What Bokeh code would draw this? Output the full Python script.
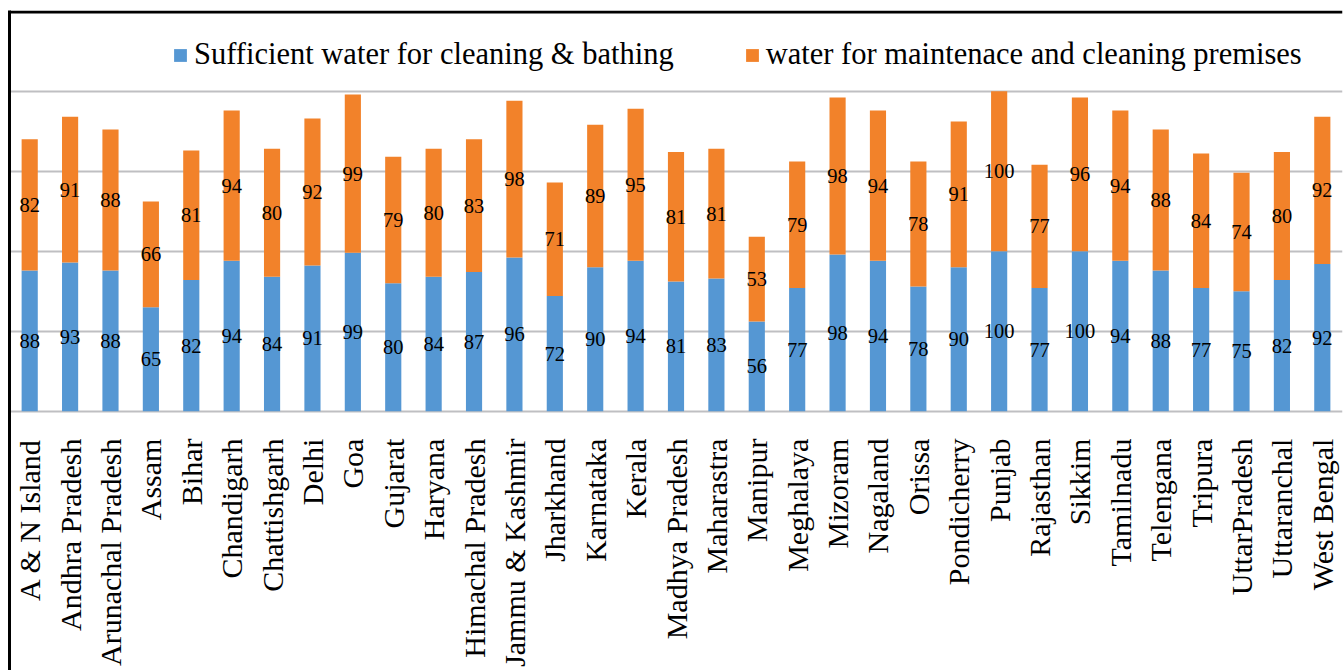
import math
from bokeh.plotting import figure
from bokeh.models import (ColumnDataSource, FactorRange, Range1d, FixedTicker,
                          Legend, LegendItem, Span)
from bokeh.core.properties import value
from bokeh.embed import file_html
from bokeh.resources import INLINE

states = ["A & N Island", "Andhra Pradesh", "Arunachal Pradesh", "Assam", "Bihar",
          "Chandigarh", "Chattishgarh", "Delhi", "Goa", "Gujarat", "Haryana",
          "Himachal Pradesh", "Jammu & Kashmir", "Jharkhand", "Karnataka", "Kerala",
          "Madhya Pradesh", "Maharastra", "Manipur", "Meghalaya", "Mizoram",
          "Nagaland", "Orissa", "Pondicherry", "Punjab", "Rajasthan", "Sikkim",
          "Tamilnadu", "Telengana", "Tripura", "UttarPradesh", "Uttaranchal",
          "West Bengal"]
bathing = [88, 93, 88, 65, 82, 94, 84, 91, 99, 80, 84, 87, 96, 72, 90, 94, 81, 83,
           56, 77, 98, 94, 78, 90, 100, 77, 100, 94, 88, 77, 75, 82, 92]
premises = [82, 91, 88, 66, 81, 94, 80, 92, 99, 79, 80, 83, 98, 71, 89, 95, 81, 81,
            53, 79, 98, 94, 78, 91, 100, 77, 96, 94, 88, 84, 74, 80, 92]
series_names = ["Sufficient water for cleaning & bathing",
                "water for maintenace and cleaning premises"]
grid_ticks = [0, 50, 100, 150, 200]

BLUE = "#5597D3"
ORANGE = "#F2822A"
FONT = "Liberation Serif"
Y_START, Y_END = -162.06, 250.44   # value range of the plot area
LABEL_Y = -17.1                     # category labels hang just below zero
BORDER_Y = 249.5                    # top chart border line

src = ColumnDataSource(dict(
    state=states,
    bathing=bathing,
    premises=premises,
    bath_mid=[b / 2 for b in bathing],
    prem_mid=[b + p / 2 for b, p in zip(bathing, premises)],
    bath_txt=[str(b) for b in bathing],
    prem_txt=[str(p) for p in premises],
    lab_y=[LABEL_Y] * len(states),
))

p = figure(x_range=FactorRange(*states, range_padding=0),
           y_range=Range1d(Y_START, Y_END),
           width=1344, height=670, output_backend="svg", toolbar_location=None,
           x_axis_location=None, y_axis_location="left",
           min_border_left=9, min_border_right=2, min_border_top=10,
           min_border_bottom=0)
p.outline_line_color = None
p.background_fill_color = "white"
p.border_fill_color = "white"

# left chart border line: the y axis line, with no ticks or labels
ya = p.yaxis[0]
ya.ticker = FixedTicker(ticks=[])
ya.axis_line_color = "black"
ya.axis_line_width = 3
ya.major_tick_line_color = None
ya.minor_tick_line_color = None
ya.major_tick_out = 0
ya.major_tick_in = 0
ya.minor_tick_out = 0
ya.minor_tick_in = 0
ya.major_label_standoff = 0

# top chart border line
p.add_layout(Span(location=BORDER_Y, dimension="width",
                  line_color="black", line_width=3))

p.xgrid.visible = False
p.ygrid.ticker = FixedTicker(ticks=grid_ticks)
p.ygrid.grid_line_color = "#BFBFC2"
p.ygrid.grid_line_width = 2

rs = p.vbar_stack(["bathing", "premises"], x="state", width=0.4,
                  color=[BLUE, ORANGE], line_color=None, source=src)

p.text(x="state", y="bath_mid", text="bath_txt", source=src,
       text_font=value(FONT), text_font_size="20.5px", text_align="center",
       text_baseline="middle", text_color="black")
p.text(x="state", y="prem_mid", text="prem_txt", source=src,
       text_font=value(FONT), text_font_size="20.5px", text_align="center",
       text_baseline="middle", text_color="black")

# category labels, vertical, reading bottom to top
p.text(x="state", y="lab_y", text="state", source=src, angle=math.pi / 2,
       text_font=value(FONT), text_font_size="30px", text_align="right",
       text_baseline="middle", text_color="black")

legend = Legend(items=[LegendItem(label=series_names[0], renderers=[rs[0]]),
                       LegendItem(label=series_names[1], renderers=[rs[1]])],
                orientation="horizontal", location=(163, 598),
                glyph_width=16, glyph_height=16, label_standoff=6, spacing=70,
                padding=0, margin=0, border_line_color=None,
                background_fill_alpha=0, label_text_font=FONT,
                label_text_font_size="30.5px", label_text_color="black")
p.add_layout(legend)

open("out.html", "w").write(file_html(p, INLINE))
